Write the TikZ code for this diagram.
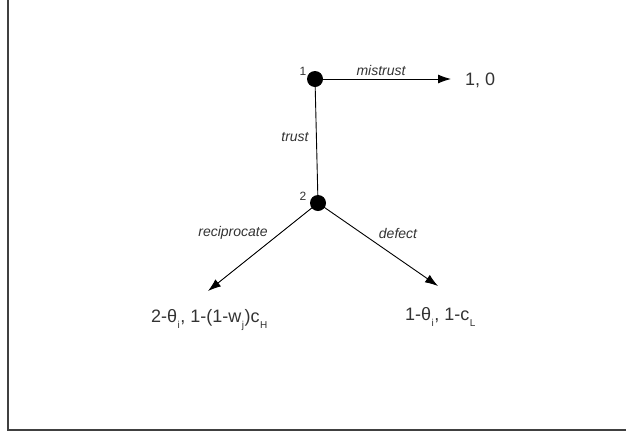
\documentclass[tikz,border=0pt]{standalone}
\usepackage{fontspec}
\setmainfont{Liberation Sans}
\usetikzlibrary{arrows.meta}
\definecolor{txt}{HTML}{333333}
\newcommand{\lowsub}[1]{\kern0.5pt\raisebox{-6pt}{\fontsize{10}{10}\selectfont #1}\kern0.5pt}
\begin{document}
\begin{tikzpicture}[x=1pt,y=-1pt,
  dot/.style={circle,fill=black,inner sep=0pt,minimum size=16pt},
  edge/.style={draw=black,line width=0.9pt},
  arr/.style={edge,-{Latex[length=13pt,width=9pt]}},
  lbl/.style={text=txt,font=\fontsize{14}{16}\selectfont\itshape,inner sep=1pt},
  num/.style={text=txt,font=\fontsize{12}{14}\selectfont,inner sep=0pt},
  pay/.style={text=txt,font=\fontsize{18}{20}\selectfont,inner sep=0pt}]
\useasboundingbox (0,0) rectangle (626,432);
\clip (0,0) rectangle (626,432);
\draw[line width=1.3pt,draw=black!75] (8,-5) rectangle (640,430);
\node[dot] (n1) at (315,79) {};
\node[dot] (n2) at (318,203) {};
\node[num] (l1) at (303,71) {1};
\node[num] (l2) at (303,196) {2};
\coordinate (e1) at (451,79);
\coordinate (e2) at (208,291);
\coordinate (e3) at (438,286);
\draw[edge] (n1.center) -- (n2.center);
\draw[arr] (n1.center) -- (e1);
\draw[arr] (n2.center) -- (e2);
\draw[arr] (n2.center) -- (e3);
\node[lbl] (m) at (381,70) {mistrust};
\node[lbl] (t) at (295,137) {trust};
\node[lbl] (r) at (233,233) {reciprocate};
\node[lbl] (d) at (398,233) {defect};
\node[pay,anchor=base west] (p1) at (465,85) {1, 0};
\node[pay,anchor=base west] (p2) at (151,322) {2-θ\lowsub{i}, 1-(1-w\lowsub{j})c\lowsub{H}};
\node[pay,anchor=base west] (p3) at (405,320) {1-θ\lowsub{i}, 1-c\lowsub{L}};
\end{tikzpicture}
\end{document}
